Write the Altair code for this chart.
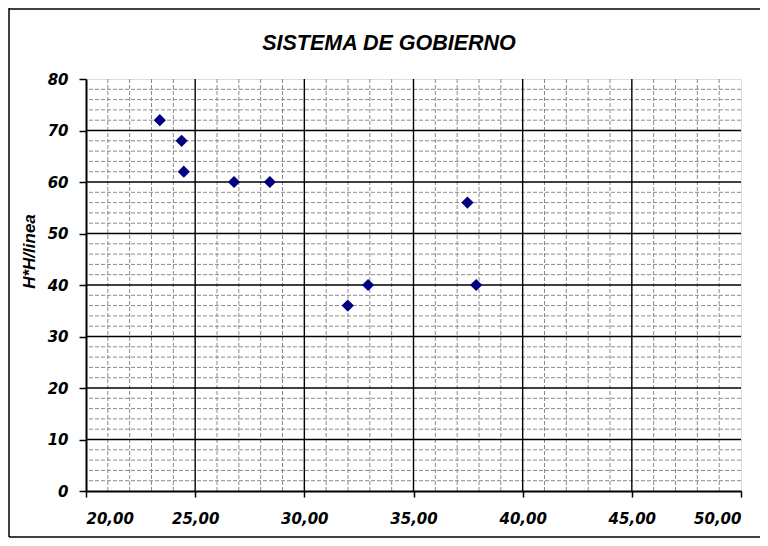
import altair as alt
import pandas as pd

# data
x_vals = [23.38, 24.38, 24.48, 26.78, 28.42, 31.99, 32.92, 37.87, 37.47]
y_vals = [72, 68, 62, 60, 60, 36, 40, 40, 56]

x_ticks = [20, 25, 30, 35, 40, 45, 50]
y_ticks = [0, 10, 20, 30, 40, 50, 60, 70, 80]
x_major_grid = [25, 30, 35, 40, 45]
y_major_grid = [10, 20, 30, 40, 50, 60, 70]
x_minor_grid = [v for v in range(21, 50) if v % 5]
y_minor_grid = [v for v in range(2, 80, 2) if v % 10]

title_text = "SISTEMA DE GOBIERNO"
y_title = "H*H/linea"

xs = alt.Scale(domain=[20, 50], nice=False, zero=False)
ys = alt.Scale(domain=[0, 80], nice=False, zero=False)

label_font = "DejaVu Sans"

xa = alt.Axis(
    values=x_ticks, grid=False, title=None, format=".2f",
    labelExpr="replace(datum.label, '.', ',')",
    labelFont=label_font, labelFontSize=15, labelFontWeight="bold",
    labelFontStyle="italic", labelColor="black", labelPadding=14,
    tickSize=6, tickColor="black", tickWidth=1.5,
    domainColor="black", domainWidth=2, zindex=1,
)
ya = alt.Axis(
    values=y_ticks, grid=False, title=y_title,
    labelFont=label_font, labelFontSize=15, labelFontWeight="bold",
    labelFontStyle="italic", labelColor="black", labelPadding=11,
    tickSize=7, tickColor="black", tickWidth=1.5,
    domainColor="black", domainWidth=2, zindex=1,
    titleFont="Liberation Sans", titleFontSize=17, titleFontWeight="bold",
    titleFontStyle="italic", titleColor="black", titlePadding=9,
    titleY=172,
)

X = lambda: alt.X("x:Q", scale=xs, axis=xa)
Y = lambda: alt.Y("y:Q", scale=ys, axis=ya)

minor_v = alt.Chart(pd.DataFrame({"x": x_minor_grid})).mark_rule(
    color="#8a8a8a", strokeDash=[4, 2], strokeWidth=1
).encode(x=X())
minor_h = alt.Chart(pd.DataFrame({"y": y_minor_grid})).mark_rule(
    color="#8a8a8a", strokeDash=[4, 2], strokeWidth=1
).encode(y=Y())
major_v = alt.Chart(pd.DataFrame({"x": x_major_grid})).mark_rule(
    color="black", strokeWidth=1.4
).encode(x=X())
major_h = alt.Chart(pd.DataFrame({"y": y_major_grid})).mark_rule(
    color="black", strokeWidth=1.4
).encode(y=Y())

points = alt.Chart(pd.DataFrame({"x": x_vals, "y": y_vals})).mark_point(
    shape="diamond", filled=True, color="#000080", size=150, opacity=1
).encode(x=X(), y=Y())

one = pd.DataFrame({"a": [0]})
frame_left = alt.Chart(one).mark_rule(color="black", strokeWidth=1.5).encode(
    x=alt.value(-77), y=alt.value(-71), y2=alt.value(458)
)
frame_top = alt.Chart(one).mark_rule(color="black", strokeWidth=1.5).encode(
    x=alt.value(-77), x2=alt.value(700), y=alt.value(-70)
)
frame_bottom = alt.Chart(one).mark_rule(color="black", strokeWidth=1.5).encode(
    x=alt.value(-77), x2=alt.value(700), y=alt.value(458)
)

title = alt.Chart(pd.DataFrame({"t": [title_text]})).mark_text(
    font="Liberation Sans", fontSize=21.5, fontWeight="bold", fontStyle="italic",
    color="black", align="center", baseline="alphabetic",
).encode(x=alt.value(303), y=alt.value(-29), text="t:N")

chart = alt.layer(
    minor_v, minor_h, major_v, major_h, points,
    frame_left, frame_top, frame_bottom, title
).properties(
    width=655,
    height=412,
    autosize=alt.AutoSizeParams(type="none"),
    padding={"left": 78, "top": 71, "right": 19, "bottom": 47},
).configure_view(stroke="#808080", strokeWidth=1.5).configure(background="white")

chart.save("out.html", embed_options={"renderer": "svg", "actions": False})
